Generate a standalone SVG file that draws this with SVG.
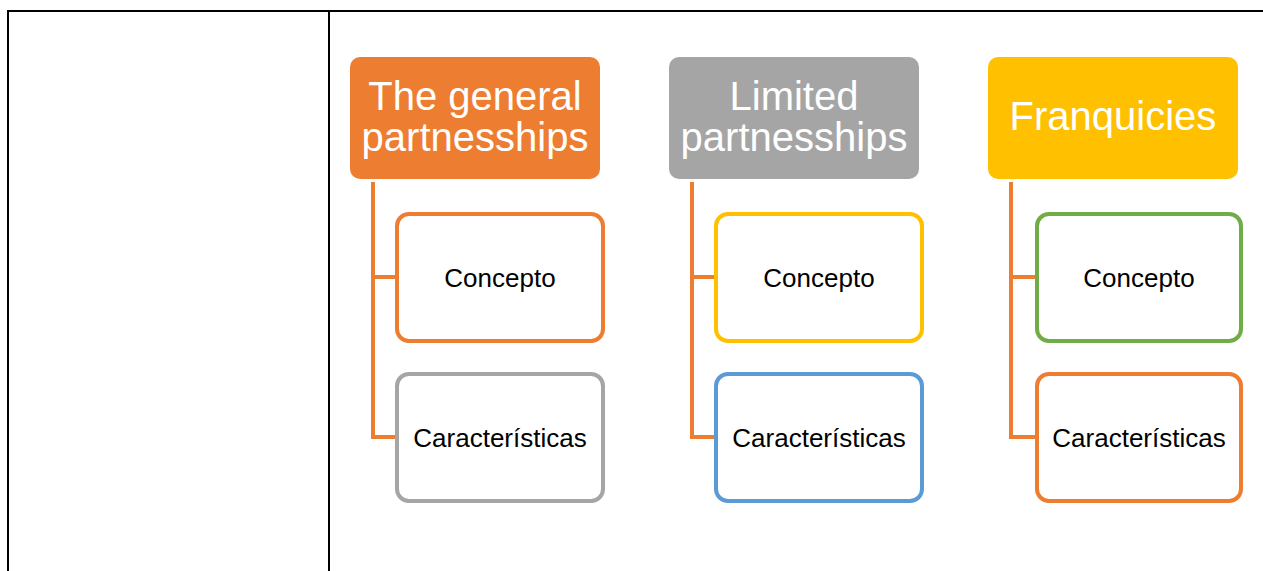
<svg xmlns="http://www.w3.org/2000/svg" width="1263" height="571" viewBox="0 0 1263 571">
<style>
.tbl{stroke:#000;stroke-width:2;fill:none}
.hdr text{font-family:"Liberation Sans",Arial,sans-serif;font-size:40px;fill:#fff;text-anchor:middle}
.child rect{fill:#fff;stroke-width:4}
.child text{font-family:"Liberation Sans",Arial,sans-serif;font-size:26px;fill:#000;text-anchor:middle}
.conn{stroke:#ED7D31;stroke-width:4;fill:none}
</style>
<rect width="1263" height="571" fill="#fff"/>
<g id="table">
<line class="tbl" x1="8" y1="11" x2="1263" y2="11"/>
<line class="tbl" x1="8" y1="10" x2="8" y2="571"/>
<line class="tbl" x1="329" y1="10" x2="329" y2="571"/>
</g>
<g id="connectors">
<path class="conn" d="M373 182 V437 H397 M373 277 H397"/>
<path class="conn" d="M692 182 V437 H716 M692 277 H716"/>
<path class="conn" d="M1011 182 V437 H1035 M1011 277 H1035"/>
</g>
<g id="h1" class="hdr"><rect x="350" y="57" width="250" height="122" rx="10" fill="#ED7D31"/><text x="475" y="110">The general</text><text x="475" y="151">partnesships</text></g>
<g id="h2" class="hdr"><rect x="669" y="57" width="250" height="122" rx="10" fill="#A5A5A5"/><text x="794" y="110">Limited</text><text x="794" y="151">partnesships</text></g>
<g id="h3" class="hdr"><rect x="988" y="57" width="250" height="122" rx="10" fill="#FFC000"/><text x="1113" y="130">Franquicies</text></g>
<g id="c1a" class="child"><rect x="397" y="214" width="206" height="127" rx="12" stroke="#ED7D31"/><text x="500" y="287">Concepto</text></g>
<g id="c1b" class="child"><rect x="397" y="374" width="206" height="127" rx="12" stroke="#A5A5A5"/><text x="500" y="447">Características</text></g>
<g id="c2a" class="child"><rect x="716" y="214" width="206" height="127" rx="12" stroke="#FFC000"/><text x="819" y="287">Concepto</text></g>
<g id="c2b" class="child"><rect x="716" y="374" width="206" height="127" rx="12" stroke="#5B9BD5"/><text x="819" y="447">Características</text></g>
<g id="c3a" class="child"><rect x="1037" y="214" width="204" height="127" rx="12" stroke="#70AD47"/><text x="1139" y="287">Concepto</text></g>
<g id="c3b" class="child"><rect x="1037" y="374" width="204" height="127" rx="12" stroke="#ED7D31"/><text x="1139" y="447">Características</text></g>
</svg>
